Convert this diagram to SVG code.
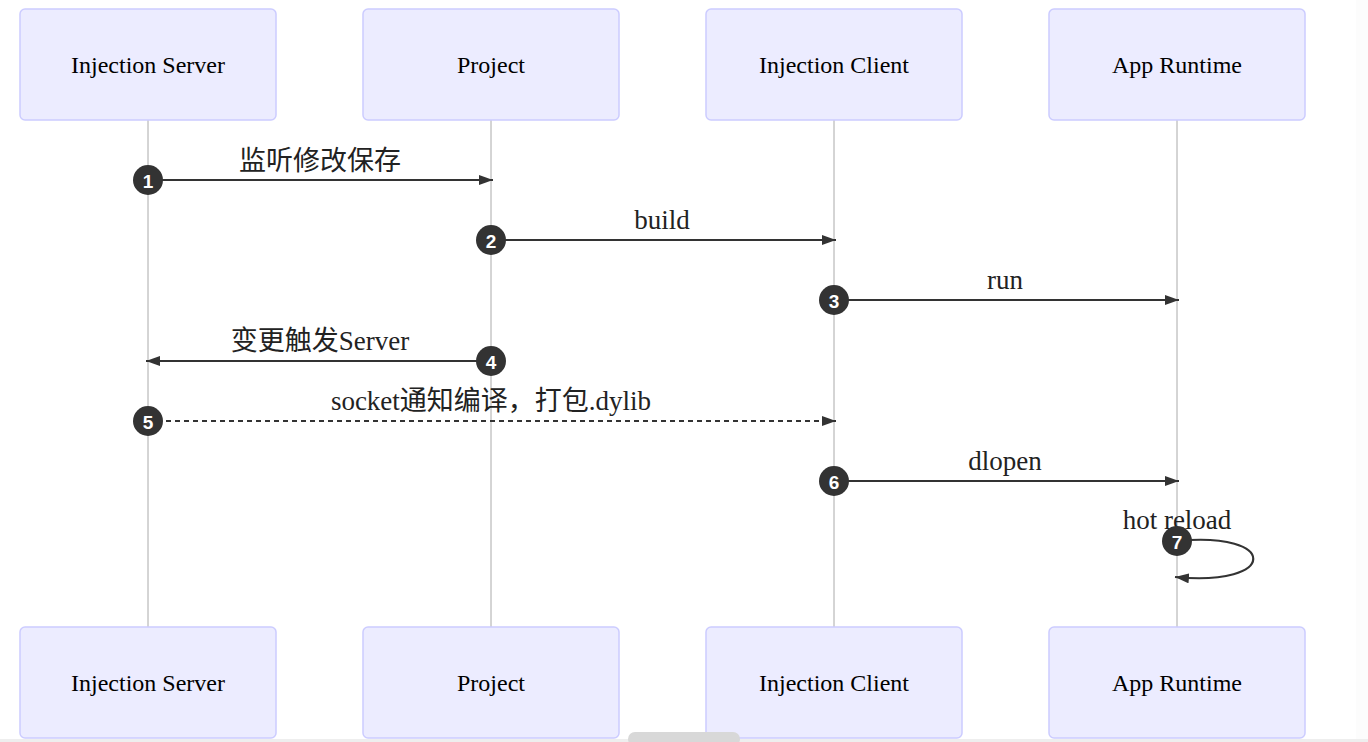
<svg xmlns="http://www.w3.org/2000/svg" width="1368" height="742" viewBox="0 0 1368 742">
<style>
.actor{fill:#ECECFF;stroke:#CCCCFF;stroke-width:1.5}
.atext{font-family:"Liberation Serif",serif;font-size:24px;fill:#000;text-anchor:middle;dominant-baseline:central}
.life{stroke:#aaaaaa;stroke-width:1}
.msg{stroke:#333;stroke-width:2.2;fill:none}
.dash{stroke-dasharray:5,4}
.mtext{font-family:"Liberation Serif","Noto Sans CJK SC",serif;font-size:27px;fill:#222;text-anchor:middle}
.seq{fill:#333}
.stext{font-family:"Liberation Sans",Arial,sans-serif;font-size:19px;font-weight:bold;fill:#fff;text-anchor:middle;dominant-baseline:central}
</style>
<defs>
<marker id="arrow" viewBox="0 0 14 10" refX="14" refY="5" markerWidth="14" markerHeight="10" markerUnits="userSpaceOnUse" orient="auto">
<path d="M0,0 L14,5 L0,10 z" fill="#333"/>
</marker>
</defs>
<rect width="1368" height="742" fill="#fff"/>
<rect x="1356" y="0" width="12" height="742" fill="#fcfcfc"/>
<g id="lifelines">
<line class="life" x1="148" y1="120" x2="148" y2="627"/>
<line class="life" x1="491" y1="120" x2="491" y2="627"/>
<line class="life" x1="834" y1="120" x2="834" y2="627"/>
<line class="life" x1="1177" y1="120" x2="1177" y2="627"/>
</g>
<g id="actor-server-top"><rect class="actor" x="20" y="9" width="256" height="111" rx="5"/><text class="atext" x="148" y="65">Injection Server</text></g>
<g id="actor-project-top"><rect class="actor" x="363" y="9" width="256" height="111" rx="5"/><text class="atext" x="491" y="65">Project</text></g>
<g id="actor-client-top"><rect class="actor" x="706" y="9" width="256" height="111" rx="5"/><text class="atext" x="834" y="65">Injection Client</text></g>
<g id="actor-runtime-top"><rect class="actor" x="1049" y="9" width="256" height="111" rx="5"/><text class="atext" x="1177" y="65">App Runtime</text></g>
<g id="actor-server-bottom"><rect class="actor" x="20" y="627" width="256" height="111" rx="5"/><text class="atext" x="148" y="683">Injection Server</text></g>
<g id="actor-project-bottom"><rect class="actor" x="363" y="627" width="256" height="111" rx="5"/><text class="atext" x="491" y="683">Project</text></g>
<g id="actor-client-bottom"><rect class="actor" x="706" y="627" width="256" height="111" rx="5"/><text class="atext" x="834" y="683">Injection Client</text></g>
<g id="actor-runtime-bottom"><rect class="actor" x="1049" y="627" width="256" height="111" rx="5"/><text class="atext" x="1177" y="683">App Runtime</text></g>
<g id="connectors">
<text class="mtext" x="320" y="170">监听修改保存</text>
<line class="msg" x1="148" y1="180" x2="493" y2="180" marker-end="url(#arrow)"/>
<text class="mtext" x="662" y="229">build</text>
<line class="msg" x1="491" y1="240" x2="836" y2="240" marker-end="url(#arrow)"/>
<text class="mtext" x="1005" y="289">run</text>
<line class="msg" x1="834" y1="300" x2="1179" y2="300" marker-end="url(#arrow)"/>
<text class="mtext" x="320" y="350">变更触发Server</text>
<line class="msg" x1="491" y1="361" x2="146" y2="361" marker-end="url(#arrow)"/>
<text class="mtext" x="491" y="410">socket通知编译，打包.dylib</text>
<line class="msg dash" x1="148" y1="421" x2="836" y2="421" marker-end="url(#arrow)"/>
<text class="mtext" x="1005" y="470">dlopen</text>
<line class="msg" x1="834" y1="481" x2="1179" y2="481" marker-end="url(#arrow)"/>
<text class="mtext" x="1177" y="529">hot reload</text>
<path class="msg" d="M1177,541 C1279,531 1279,587 1175,577" marker-end="url(#arrow)"/>
</g>
<g id="sequence-numbers">
<circle class="seq" cx="148" cy="180" r="15"/><text class="stext" x="148" y="181">1</text>
<circle class="seq" cx="491" cy="240" r="15"/><text class="stext" x="491" y="241">2</text>
<circle class="seq" cx="834" cy="300" r="15"/><text class="stext" x="834" y="301">3</text>
<circle class="seq" cx="491" cy="361" r="15"/><text class="stext" x="491" y="362">4</text>
<circle class="seq" cx="148" cy="421" r="15"/><text class="stext" x="148" y="422">5</text>
<circle class="seq" cx="834" cy="481" r="15"/><text class="stext" x="834" y="482">6</text>
<circle class="seq" cx="1177" cy="541" r="15"/><text class="stext" x="1177" y="542">7</text>
</g>
<rect x="0" y="739" width="1368" height="3" fill="#eeeeee"/>
<rect x="628" y="732" width="112" height="14" rx="7" fill="#d8d8d8"/>
</svg>
